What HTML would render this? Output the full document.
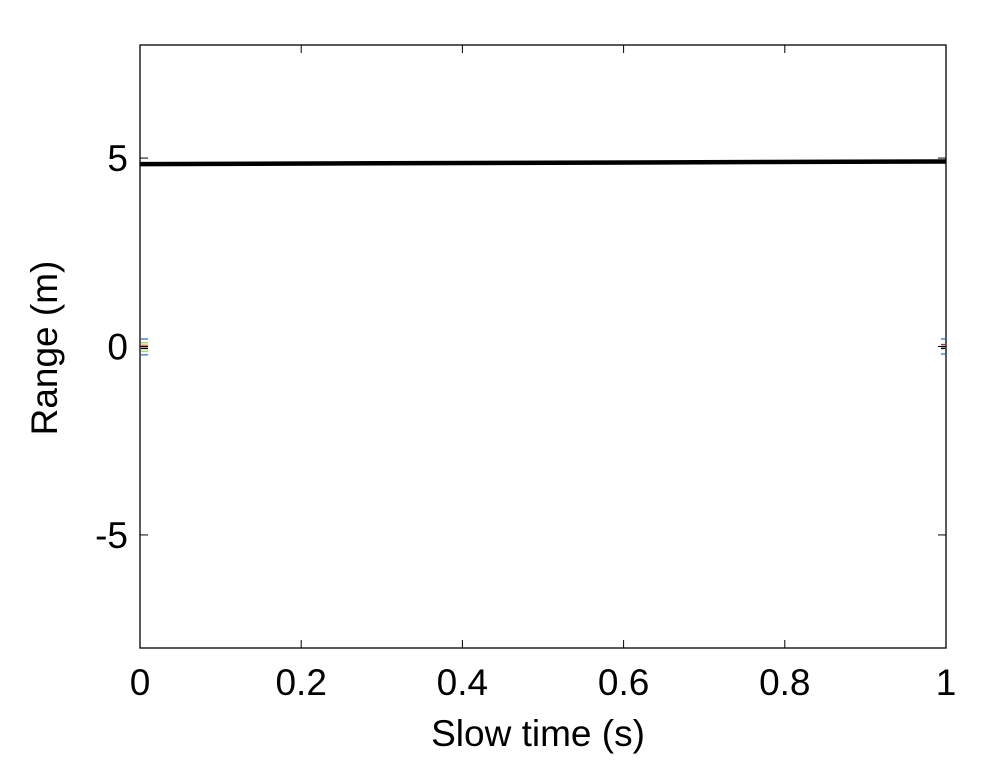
<!DOCTYPE html>
<html><head><meta charset="utf-8"><style>
html,body{margin:0;padding:0;background:#fff;}
svg text{font-family:"Liberation Sans",sans-serif;fill:#000;}
</style></head><body>
<svg id="chart" width="1000" height="764">
<rect x="0" y="0" width="1000" height="764" fill="#fff"/>
<g id="plot"></g>
</svg>
<script>
const xTicks = [0, 0.2, 0.4, 0.6, 0.8, 1];
const xTickLabels = ["0", "0.2", "0.4", "0.6", "0.8", "1"];
const yTicks = [-5, 0, 5];
const yTickLabels = ["-5", "0", "5"];
const lineTimes = [0, 1];
const lineRanges = [4.84, 4.91];

const L=140, R=946, T=45, B=648;
const xMin=0,xMax=1,yMin=-8,yMax=8;
function sx(v){return L+(v-xMin)/(xMax-xMin)*(R-L);}
function sy(v){return B-(v-yMin)/(yMax-yMin)*(B-T);}
const NS="http://www.w3.org/2000/svg";
const g=document.getElementById('plot');
function mk(tag,attrs,parent){const e=document.createElementNS(NS,tag);for(const k in attrs)e.setAttribute(k,attrs[k]);(parent||g).appendChild(e);return e;}

const frame=mk('rect',{x:L,y:T,width:R-L,height:B-T,fill:'none',stroke:'#000','stroke-width':1.3});



xTicks.forEach((v,i)=>{
  const x=sx(v);
  const t1=mk('line',{x1:x,y1:B,x2:x,y2:B-8,stroke:'#000','stroke-width':1});
  
  
  const t2=mk('line',{x1:x,y1:T,x2:x,y2:T+8,stroke:'#000','stroke-width':1});
  
  
  const tx=mk('text',{x:x,y:695,'font-size':37,'text-anchor':'middle'});
  tx.textContent=xTickLabels[i];
  
  
});
yTicks.forEach((v,i)=>{
  const y=sy(v);
  const t1=mk('line',{x1:L,y1:y,x2:L+8,y2:y,stroke:'#000','stroke-width':1});
  
  
  const t2=mk('line',{x1:R,y1:y,x2:R-8,y2:y,stroke:'#000','stroke-width':1});
  
  
  const tx=mk('text',{x:128,y:y+13,'font-size':37,'text-anchor':'end'});
  tx.textContent=yTickLabels[i];
  
  
});

[[-0.22,'#4a86e8'],[-0.13,'#9fdc6a'],[-0.05,'#000'],[0.03,'#e87a3a'],[0.1,'#9fdc6a'],[0.2,'#4a86e8']].forEach(([v,c])=>{
  const m=mk('line',{x1:L+1,y1:sy(v),x2:L+8,y2:sy(v),stroke:c,'stroke-width':1.5});
  
  
});
[[0.2,'#4a86e8'],[0.05,'#a33'],[-0.05,'#000'],[-0.2,'#4a86e8']].forEach(([v,c])=>{
  const m=mk('line',{x1:R-5,y1:sy(v),x2:R-1,y2:sy(v),stroke:c,'stroke-width':1.5});
  
  
});

const pts=lineTimes.map((t,i)=>sx(t)+','+sy(lineRanges[i])).join(' ');
const ln=mk('polyline',{points:pts,fill:'none',stroke:'#000','stroke-width':4.5});



const xl=mk('text',{x:538,y:746,'font-size':37,'text-anchor':'middle'});
xl.textContent='Slow time (s)';


const yl=mk('text',{x:0,y:0,'font-size':37,'text-anchor':'middle',transform:'translate(57,348) rotate(-90)'});
yl.textContent='Range (m)';


</script>
</body></html>
